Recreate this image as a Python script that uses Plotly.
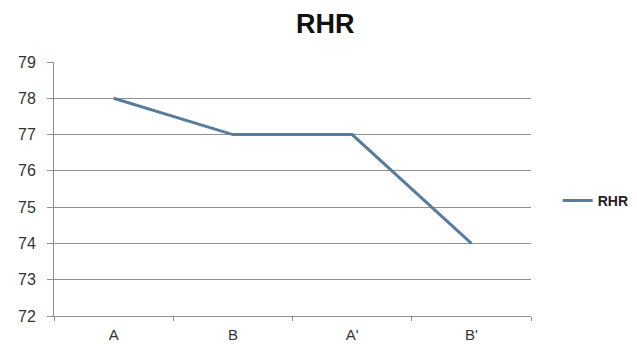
import plotly.graph_objects as go

# Resting heart rate per condition
categories = ["A", "B", "A'", "B'"]
rhr_values = [78, 77, 77, 74]
y_ticks = [72, 73, 74, 75, 76, 77, 78, 79]

LINE_COLOR = "#587c9c"
GRID_COLOR = "#8f8f8f"
FONT = "Liberation Sans, Arial, sans-serif"

fig = go.Figure()
fig.add_trace(go.Scatter(
    x=categories,
    y=rhr_values,
    mode="lines",
    name="RHR",
    line=dict(color=LINE_COLOR, width=3),
))

fig.update_layout(
    width=637,
    height=344,
    margin=dict(l=54, r=106, t=62, b=28, autoexpand=False),
    paper_bgcolor="white",
    plot_bgcolor="white",
    font=dict(family=FONT, size=16, color="#333333"),
    showlegend=True,
    legend=dict(
        x=1.056, y=0.453, xanchor="left", yanchor="middle",
        font=dict(family=FONT, size=14, color="#222222", weight="bold"),
        bgcolor="rgba(0,0,0,0)",
    ),
    annotations=[dict(
        text="<b>RHR</b>",
        xref="paper", yref="paper",
        x=0.570, y=1.15, xanchor="center", yanchor="middle",
        showarrow=False,
        font=dict(family=FONT, size=27, color="#111111"),
    )],
)

fig.update_xaxes(
    type="category",
    range=[-0.5, 3.5],
    tickson="boundaries",
    ticks="outside",
    ticklen=4,
    tickcolor=GRID_COLOR,
    showgrid=False,
    showline=True,
    linecolor=GRID_COLOR,
    linewidth=1,
    automargin=False,
    ticklabelstandoff=5,
    tickfont=dict(size=15, color="#333333"),
)

fig.update_yaxes(
    range=[72, 79],
    tickvals=y_ticks,
    ticks="outside",
    ticklen=6,
    tickcolor=GRID_COLOR,
    showgrid=True,
    gridcolor=GRID_COLOR,
    gridwidth=1,
    showline=True,
    linecolor=GRID_COLOR,
    linewidth=1,
    zeroline=False,
    automargin=False,
    ticklabelstandoff=8,
    tickfont=dict(size=16, color="#333333"),
)

fig.write_html("out.html")
